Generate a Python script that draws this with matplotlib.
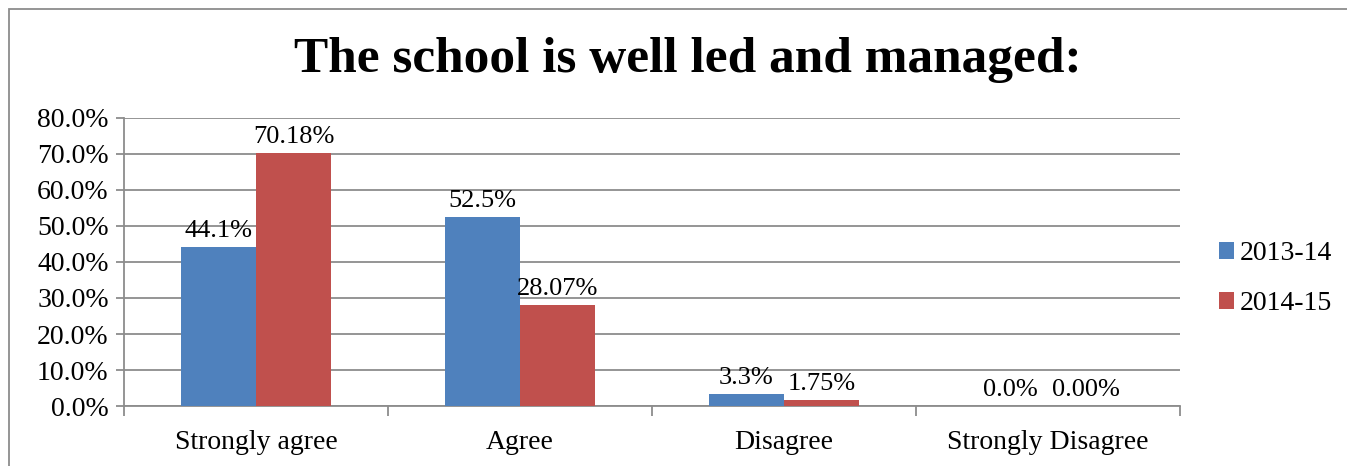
import numpy as np
import matplotlib.pyplot as plt
from matplotlib.patches import Rectangle

plt.rcParams['font.family'] = ['Liberation Serif', 'DejaVu Serif']

categories = ["Strongly agree", "Agree", "Disagree", "Strongly Disagree"]
series_names = ["2013-14", "2014-15"]
vals_1314 = [44.1, 52.5, 3.3, 0.0]
vals_1415 = [70.18, 28.07, 1.75, 0.0]
labels_1314 = ["44.1%", "52.5%", "3.3%", "0.0%"]
labels_1415 = ["70.18%", "28.07%", "1.75%", "0.00%"]
colors = ["#4F81BD", "#C0504D"]

W, H = 1347, 466
fig = plt.figure(figsize=(W / 100, H / 100), dpi=100)
ax = fig.add_axes([124 / W, 1 - 406 / H, (1180 - 124) / W, (406 - 118) / H])

x = np.arange(len(categories))
bw = 0.284
b1 = ax.bar(x - bw / 2, vals_1314, bw, color=colors[0], label=series_names[0], zorder=3)
b2 = ax.bar(x + bw / 2, vals_1415, bw, color=colors[1], label=series_names[1], zorder=3)

for bars, labs in ((b1, labels_1314), (b2, labels_1415)):
    for r, t in zip(bars, labs):
        ax.annotate(t, (r.get_x() + r.get_width() / 2, r.get_height()),
                    xytext=(0, 5), textcoords="offset pixels",
                    ha="center", va="bottom", fontsize=19)

ax.set_xlim(-0.5, 3.5)
ax.set_ylim(0, 80)
ax.set_yticks(np.arange(0, 81, 10))
ax.set_yticklabels([f"{v:.1f}%" for v in np.arange(0, 81, 10)], fontsize=20)
ax.yaxis.grid(True, color="#8c8c8c", linewidth=1.3, zorder=0)

ax.set_xticks(x)
ax.set_xticklabels(categories, fontsize=20)
ax.set_xticks(np.arange(-0.5, 4, 1), minor=True)
ax.tick_params(axis="x", which="major", length=0, pad=17)
ax.tick_params(axis="x", which="minor", length=7, color="#8c8c8c", width=1.3)
ax.tick_params(axis="y", length=6, color="#8c8c8c", width=1.3, pad=5)

for s in ["top", "right"]:
    ax.spines[s].set_visible(False)
for s in ["left", "bottom"]:
    ax.spines[s].set_color("#8c8c8c")
    ax.spines[s].set_linewidth(1.3)

fig.text(688 / W, 1 - 60 / H, "The school is well led and managed:",
         ha="center", va="center", fontsize=37, fontweight="bold")

leg = fig.legend(handles=[b1, b2], loc="center left",
                 bbox_to_anchor=(1219 / W, 1 - 279 / H), frameon=False,
                 borderpad=0, borderaxespad=0,
                 fontsize=20, handlelength=0.55, handleheight=0.55,
                 handletextpad=0.2, labelspacing=0.9)

fig.patches.append(Rectangle((9 / W, -0.1), 1.2, 1 - 9 / H + 0.1,
                             transform=fig.transFigure, fill=False,
                             edgecolor="#8c8c8c", linewidth=1.3))

fig.savefig("out.png", dpi=100)
